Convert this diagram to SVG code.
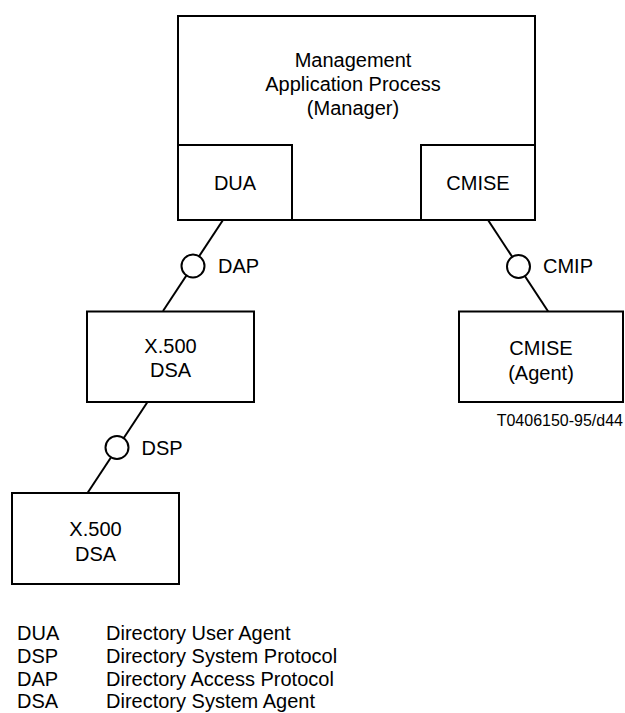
<svg xmlns="http://www.w3.org/2000/svg" width="625" height="713" viewBox="0 0 625 713">
<style>
.box{fill:#fff;stroke:#000;stroke-width:2}
.ln{stroke:#000;stroke-width:2;fill:none}
.ring{fill:#fff;stroke:#000;stroke-width:2}
text{font-family:"Liberation Sans",Arial,sans-serif;font-size:20px;fill:#000}
.c{text-anchor:middle}
.small{font-size:16px}
</style>
<rect width="625" height="713" fill="#fff"/>
<g id="connectors">
<line class="ln" x1="223" y1="220" x2="163" y2="311"/>
<circle class="ring" cx="193" cy="266" r="11.5"/>
<line class="ln" x1="488" y1="220" x2="548.5" y2="312"/>
<circle class="ring" cx="518.5" cy="266.5" r="11.5"/>
<line class="ln" x1="147.5" y1="402" x2="87.5" y2="493"/>
<circle class="ring" cx="117" cy="447.5" r="11.5"/>
</g>
<g id="manager">
<rect class="box" x="178" y="16" width="357" height="204"/>
<text class="c" x="353" y="67">Management</text>
<text class="c" x="353" y="91">Application Process</text>
<text class="c" x="353" y="115">(Manager)</text>
</g>
<g id="dua">
<rect class="box" x="178" y="145" width="114" height="75"/>
<text class="c" x="235" y="190">DUA</text>
</g>
<g id="cmise">
<rect class="box" x="421" y="145" width="114" height="75"/>
<text class="c" x="478" y="190">CMISE</text>
</g>
<g id="dap-label"><text x="218" y="273">DAP</text></g>
<g id="cmip-label"><text x="543" y="273">CMIP</text></g>
<g id="dsp-label"><text x="141.5" y="455">DSP</text></g>
<g id="dsa1">
<rect class="box" x="87" y="311.5" width="167" height="90.5"/>
<text class="c" x="170.5" y="353">X.500</text>
<text class="c" x="170.5" y="377">DSA</text>
</g>
<g id="agent">
<rect class="box" x="459" y="311.5" width="164" height="90.5"/>
<text class="c" x="541" y="355">CMISE</text>
<text class="c" x="541" y="380">(Agent)</text>
</g>
<g id="dsa2">
<rect class="box" x="12" y="493" width="167" height="91"/>
<text class="c" x="95.5" y="536">X.500</text>
<text class="c" x="95.5" y="561">DSA</text>
</g>
<g id="figure-code"><text class="small" x="623" y="426" text-anchor="end">T0406150-95/d44</text></g>
<g id="legend">
<text x="17" y="640">DUA</text><text x="106" y="640">Directory User Agent</text>
<text x="17" y="663">DSP</text><text x="106" y="663">Directory System Protocol</text>
<text x="17" y="686">DAP</text><text x="106" y="686">Directory Access Protocol</text>
<text x="17" y="708">DSA</text><text x="106" y="708">Directory System Agent</text>
</g>
</svg>
